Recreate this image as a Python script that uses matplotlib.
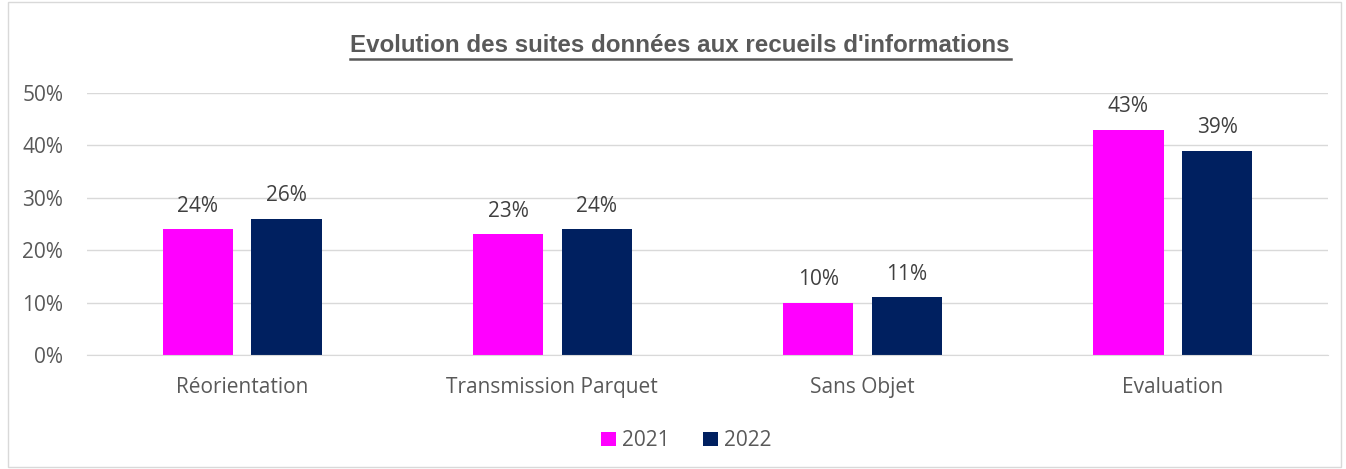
import numpy as np
import matplotlib.pyplot as plt
from matplotlib.patches import Rectangle

categories = ["Réorientation", "Transmission Parquet", "Sans Objet", "Evaluation"]
v2021 = [24, 23, 10, 43]
v2022 = [26, 24, 11, 39]
series = ["2021", "2022"]
colors = ["#FF00FF", "#002060"]

grey = "#595959"
plt.rcParams["font.family"] = ["Open Sans", "DejaVu Sans"]
fs = 15

fig = plt.figure(figsize=(13.46, 4.69), dpi=100)
ax = fig.add_axes([0.0646, 0.243, 0.922, 0.5587])

x = np.arange(len(categories))
w = 0.226
off = 0.143
b1 = ax.bar(x - off, v2021, w, color=colors[0], label=series[0])
b2 = ax.bar(x + off, v2022, w, color=colors[1], label=series[1])
for bars in (b1, b2):
    for r in bars:
        ax.annotate(f"{r.get_height():.0f}%", (r.get_x() + r.get_width() / 2, r.get_height()),
                    xytext=(0, 9), textcoords="offset points",
                    ha="center", va="bottom", fontsize=fs, color="#404040")

ax.set_xlim(-0.5, 3.5)
ax.set_ylim(0, 50)
ax.set_yticks(range(0, 51, 10))
ax.set_yticklabels([f"{t}%" for t in range(0, 51, 10)])
ax.set_xticks(x)
ax.set_xticklabels(categories)
ax.tick_params(length=0, labelsize=fs, colors=grey)
ax.tick_params(axis="x", pad=16)
ax.tick_params(axis="y", pad=17)
ax.grid(axis="y", color="#D9D9D9", lw=1)
ax.set_axisbelow(True)
for s in ["top", "right", "left"]:
    ax.spines[s].set_visible(False)
ax.spines["bottom"].set_color("#D9D9D9")

fig.text(0.5053, 0.902, "Evolution des suites données aux recueils d'informations",
         ha="center", va="center", fontsize=17.4, fontweight="bold", color=grey,
         family="Liberation Sans")
fig.add_artist(plt.Line2D([0.26, 0.751], [0.874, 0.874], color=grey, lw=1.8))

fig.legend(loc="center", bbox_to_anchor=(0.51, 0.06), ncol=2, frameon=False,
           fontsize=fs, labelcolor=grey, handlelength=0.7, handleheight=0.7,
           handletextpad=0.3, columnspacing=1.6)

fig.add_artist(Rectangle((0.006, 0.005), 0.99, 0.99, transform=fig.transFigure,
                         fill=False, edgecolor="#D9D9D9", lw=1))

fig.savefig("out.png", dpi=100)
